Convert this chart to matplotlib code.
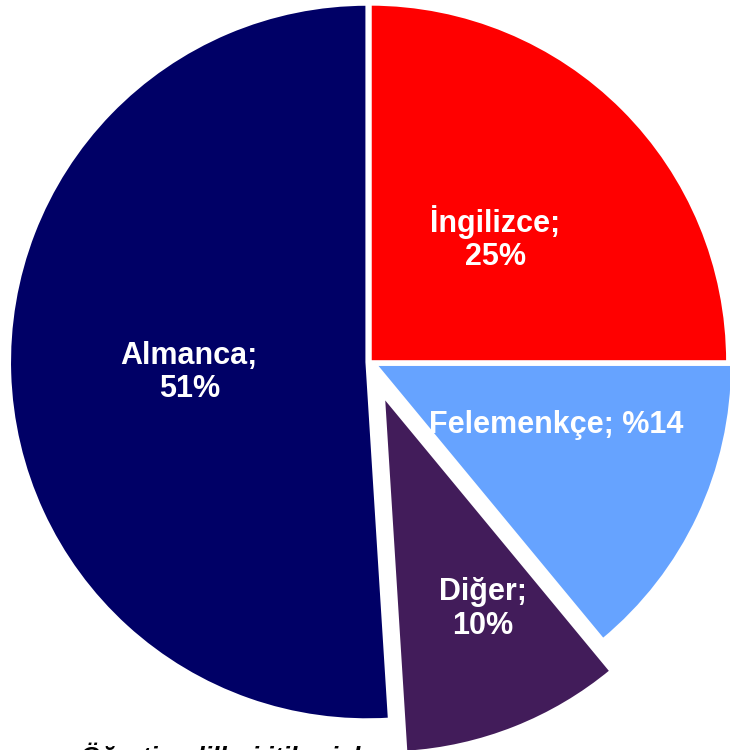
import matplotlib
matplotlib.use("Agg")
import matplotlib.pyplot as plt

# slice data, clockwise from 12 o'clock
diller = ["İngilizce", "Felemenkçe", "Diğer", "Almanca"]
oranlar = [25, 14, 10, 51]
etiketler = ["İngilizce;\n25%", "Felemenkçe; %14", "Diğer;\n10%", "Almanca;\n51%"]
renkler = ["#FF0000", "#66A3FF", "#421C5A", "#000066"]
patlama = [0.0, 0.015, 0.1, 0.008]

plt.rcParams["font.family"] = ["Liberation Sans", "DejaVu Sans"]

fig = plt.figure(figsize=(7.3, 7.5), dpi=100)
ax = fig.add_axes([0, 0, 1, 1])

wedges, texts = ax.pie(
    oranlar,
    labels=etiketler,
    colors=renkler,
    explode=patlama,
    startangle=90,
    counterclock=False,
    labeldistance=0.5,
    wedgeprops=dict(edgecolor="white", linewidth=2.5),
    textprops=dict(color="white", fontsize=22, fontweight="bold", ha="center", va="center"),
)

# hand-tuned label spots (data units, radius = 1)
konumlar = [(0.35, 0.345), (0.52, -0.177), (0.315, -0.69), (-0.505, -0.03)]
for t, (x, y) in zip(texts, konumlar):
    t.set_position((x, y))
    t.set_linespacing(1.15)

# source note, cut off by the bottom edge as in the original
ax.text(-0.81, -1.062, "Öğretim dilleri itibariyle", fontsize=19, fontweight="bold",
        fontstyle="italic", color="black", ha="left", va="top")

ax.set_xlim(-1.034, 1.006)
ax.set_ylim(-1.084, 1.011)
ax.set_aspect("auto")
ax.axis("off")

fig.savefig("out.png", dpi=100)
